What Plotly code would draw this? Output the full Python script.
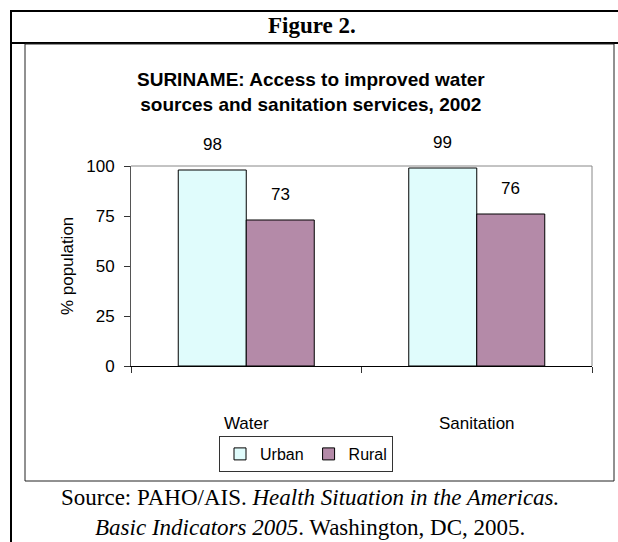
import plotly.graph_objects as go

categories = ["Water", "Sanitation"]
urban = [98, 99]
rural = [73, 76]
series_names = ["Urban", "Rural"]
y_ticks = [0, 25, 50, 75, 100]

W, H = 618, 542
L, R, T, B = 131, 26, 166, 176
PW, PH = W - L - R, H - T - B

def px(x):
    return (x - L) / PW

def py(y):
    return (H - B - y) / PH

SANS = "Liberation Sans, Arial, sans-serif"
SERIF = "Liberation Serif, Times New Roman, serif"

fig = go.Figure()
fig.add_bar(x=categories, y=urban, name=series_names[0],
            marker=dict(color="#E0FCFC", line=dict(color="#000000", width=1)))
fig.add_bar(x=categories, y=rural, name=series_names[1],
            marker=dict(color="#B48AA8", line=dict(color="#000000", width=1)))

annotations = []
for cat, u, r in zip(categories, urban, rural):
    annotations.append(dict(x=cat, y=u, xref="x", yref="y", text=str(u), showarrow=False,
                            xshift=-34, yshift=14, yanchor="bottom", xanchor="center",
                            font=dict(family=SANS, size=17, color="#000")))
    annotations.append(dict(x=cat, y=r, xref="x", yref="y", text=str(r), showarrow=False,
                            xshift=34, yshift=14, yanchor="bottom", xanchor="center",
                            font=dict(family=SANS, size=17, color="#000")))

def note(x, y, text, family, size, angle=0):
    return dict(x=px(x), y=py(y), xref="paper", yref="paper", text=text, showarrow=False,
                xanchor="center", yanchor="middle", textangle=angle,
                font=dict(family=family, size=size, color="#000"))

annotations += [
    note(312, 25, "<b>Figure 2.</b>", SERIF, 23),
    note(311, 92, "<b>SURINAME: Access to improved water<br>sources and sanitation services, 2002</b>", SANS, 19),
    note(67, 266, "% population", SANS, 17, -90),
    note(310, 512, "Source: PAHO/AIS. <i>Health Situation in the Americas.</i><br>"
                   "<i>Basic Indicators 2005</i>. Washington, DC, 2005.", SERIF, 23),
]

shapes = [
    dict(type="line", xref="paper", yref="paper", x0=px(11), x1=px(620), y0=py(11), y1=py(11),
         line=dict(color="#000", width=2)),
    dict(type="line", xref="paper", yref="paper", x0=px(11), x1=px(11), y0=py(10), y1=py(545),
         line=dict(color="#000", width=2)),
    dict(type="line", xref="paper", yref="paper", x0=px(11), x1=px(620), y0=py(43), y1=py(43),
         line=dict(color="#000", width=2)),
    dict(type="rect", xref="paper", yref="paper", x0=px(25), x1=px(614), y0=py(44), y1=py(481),
         line=dict(color="#222", width=1)),
    dict(type="line", xref="paper", yref="paper", x0=0, x1=1, y0=1, y1=1,
         line=dict(color="#888", width=1)),
    dict(type="line", xref="paper", yref="paper", x0=1, x1=1, y0=0, y1=1,
         line=dict(color="#888", width=1)),
]

fig.update_layout(
    width=W, height=H,
    margin=dict(l=L, r=R, t=T, b=B, pad=0),
    paper_bgcolor="white", plot_bgcolor="white",
    barmode="group", bargap=0.41, bargroupgap=0,
    showlegend=True,
    legend=dict(orientation="h", x=px(306), xanchor="center", y=py(436), yanchor="top",
                bordercolor="#333", borderwidth=1, bgcolor="white",
                font=dict(family=SANS, size=16, color="#000"),
                itemwidth=30, tracegroupgap=0),
    annotations=annotations,
    shapes=shapes,
    font=dict(family=SANS, color="#000"),
)
fig.update_xaxes(type="category", tickson="boundaries", ticks="outside", ticklen=6,
                 tickcolor="#333", showline=True, linecolor="#000", linewidth=1,
                 showgrid=False, ticklabelstandoff=42,
                 tickfont=dict(family=SANS, size=17, color="#000"))
fig.update_yaxes(range=[0, 100], tickvals=y_ticks, ticks="outside", ticklen=6,
                 tickcolor="#333", showline=True, linecolor="#555", linewidth=1,
                 showgrid=False, zeroline=False, ticklabelstandoff=6,
                 tickfont=dict(family=SANS, size=17, color="#000"))

fig.write_html("out.html")
